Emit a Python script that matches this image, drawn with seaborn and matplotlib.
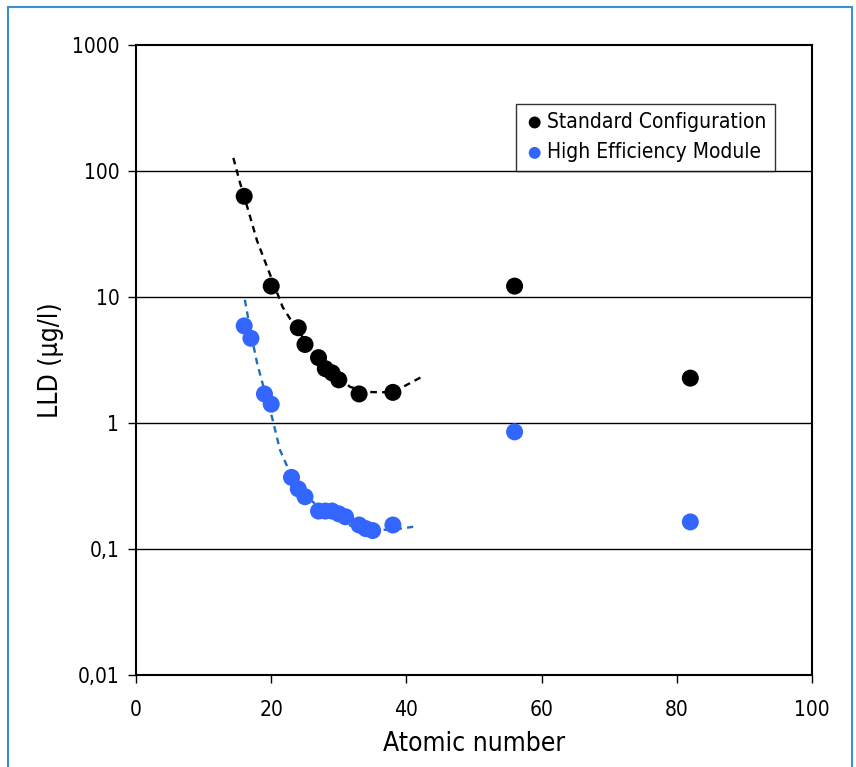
import numpy as np
import pandas as pd
import matplotlib
matplotlib.use("Agg")
import matplotlib.pyplot as plt
import matplotlib.patches as mpatches
from matplotlib.ticker import FixedLocator, FixedFormatter, NullLocator
import seaborn as sns

std_z = [16, 20, 24, 25, 27, 28, 29, 30, 33, 38, 56, 82]
std_lld = [63, 12.2, 5.7, 4.2, 3.3, 2.7, 2.5, 2.2, 1.7, 1.75, 12.2, 2.27]

hem_z = [16, 17, 19, 20, 23, 24, 25, 27, 28, 29, 30, 31, 33, 34, 35, 38, 56, 82]
hem_lld = [5.9, 4.7, 1.7, 1.41, 0.37, 0.30, 0.26, 0.20, 0.20, 0.20, 0.19,
           0.18, 0.155, 0.145, 0.14, 0.155, 0.85, 0.164]

# dashed trend lines
std_fit_z = [14.4, 15.4, 16, 17.9, 19.4, 21.7, 23.2, 25.7, 28.7, 31.7, 34.6, 38, 42.5]
std_fit_lld = [127, 80, 63, 28, 17.3, 8.3, 6.2, 4.0, 2.6, 1.93, 1.76, 1.75, 2.36]

hem_fit_z = [16.1, 16.9, 17.9, 19.1, 20.1, 21.3, 22.8, 24.7, 27.2, 30.6, 33.6, 38, 41]
hem_fit_lld = [9.5, 5.5, 3.0, 1.73, 1.12, 0.61, 0.40, 0.278, 0.211, 0.161, 0.142, 0.142, 0.15]

y_ticks = [0.01, 0.1, 1, 10, 100, 1000]
y_labels = ["0,01", "0,1", "1", "10", "100", "1000"]
x_ticks = [0, 20, 40, 60, 80, 100]

sns.set_style("white")
plt.rcParams["font.family"] = ["DejaVu Sans"]
plt.rcParams["font.stretch"] = "condensed"
plt.rcParams["text.color"] = "black"
plt.rcParams["axes.labelcolor"] = "black"
plt.rcParams["xtick.color"] = "black"
plt.rcParams["ytick.color"] = "black"

fig = plt.figure(figsize=(8.56, 7.67), dpi=100)
ax = fig.add_axes([0.1589, 0.12, 0.7897, 0.8213])

# outer frame
fig.patches.append(mpatches.Rectangle((8 / 856, -0.02), 844 / 856, 1.02 - 7 / 767,
                                      transform=fig.transFigure, fill=False,
                                      edgecolor="#3a8fd6", lw=1.5, zorder=0))

ax.set_yscale("log")
ax.set_xlim(0, 100)
ax.set_ylim(0.01, 1000)

for yv in y_ticks[1:-1]:
    ax.axhline(yv, color="black", lw=1.0, zorder=1)

df_std = pd.DataFrame({"z": std_fit_z, "lld": std_fit_lld})
df_hem = pd.DataFrame({"z": hem_fit_z, "lld": hem_fit_lld})
sns.lineplot(data=df_std, x="z", y="lld", ax=ax, color="black", lw=1.7,
             linestyle=(0, (2.8, 2.2)), sort=False, zorder=2)
sns.lineplot(data=df_hem, x="z", y="lld", ax=ax, color="#1f6fb8", lw=1.7,
             linestyle=(0, (2.8, 2.2)), sort=False, zorder=2)

sns.scatterplot(x=std_z, y=std_lld, ax=ax, color="black", s=150,
                edgecolor="none", label="Standard Configuration", zorder=3)
sns.scatterplot(x=hem_z, y=hem_lld, ax=ax, color="#3366ff", s=150,
                edgecolor="none", label="High Efficiency Module", zorder=3)

ax.yaxis.set_major_locator(FixedLocator(y_ticks))
ax.yaxis.set_major_formatter(FixedFormatter(y_labels))
ax.yaxis.set_minor_locator(NullLocator())
ax.set_xticks(x_ticks)
ax.tick_params(axis="both", which="major", direction="out", length=6, width=1,
               color="black", labelcolor="black", labelsize=15,
               left=True, bottom=True, pad=6)
ax.tick_params(axis="x", pad=12)

for sp in ax.spines.values():
    sp.set_color("black")
    sp.set_linewidth(1.5)

ax.set_xlabel("Atomic number", fontsize=19, labelpad=8, color="black")
ax.set_ylabel("LLD (µg/l)", fontsize=19, labelpad=6, color="black")

leg = ax.legend(loc="upper left", bbox_to_anchor=(0.562, 0.907), fontsize=15,
                frameon=True, fancybox=False, markerscale=0.7,
                handletextpad=0.1, borderpad=0.4, labelspacing=0.5,
                handlelength=1.0, borderaxespad=0)
leg.get_frame().set_edgecolor("black")
leg.get_frame().set_linewidth(1.0)
for t in leg.get_texts():
    t.set_color("black")

fig.savefig("out.png", dpi=100, facecolor="white")
